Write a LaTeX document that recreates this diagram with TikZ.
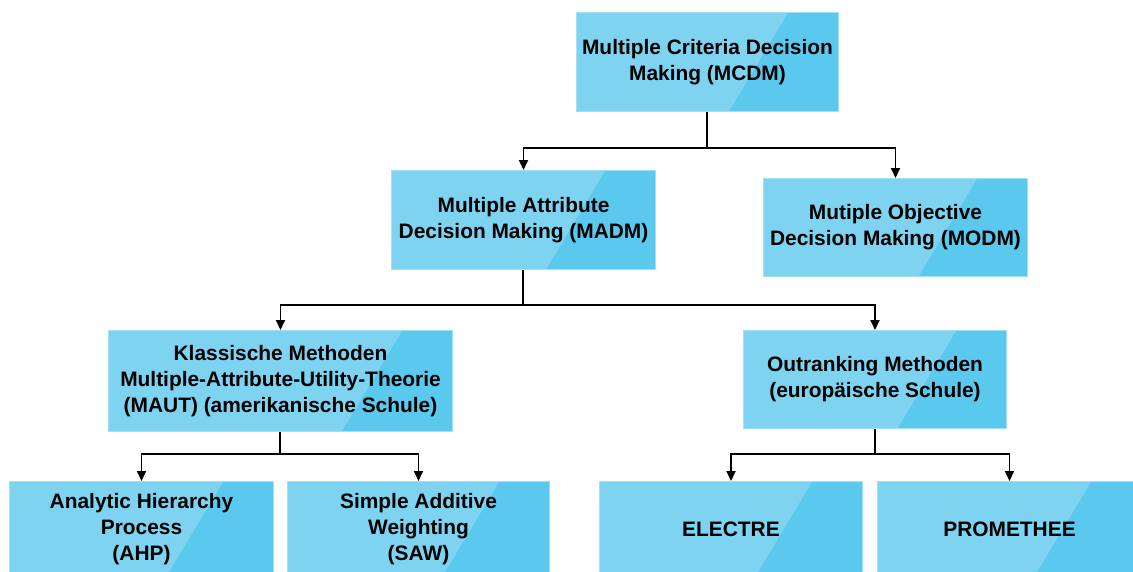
\documentclass[tikz,border=0pt]{standalone}
\usepackage{fontspec}
\setmainfont{Liberation Sans}
\usetikzlibrary{arrows.meta,calc}
\definecolor{boxlight}{HTML}{7DD3F0}
\definecolor{boxdark}{HTML}{5BC8EE}
\definecolor{boxedge}{HTML}{A3DFF5}
\begin{document}
\begin{tikzpicture}[x=1pt,y=-1pt,
  box/.style={draw=boxedge, line width=1pt, fill=boxlight, inner sep=0pt,
    font=\bfseries\fontsize{20.9}{26}\selectfont, align=center,
    path picture={
      \fill[boxdark] let \p1=(path picture bounding box.north east),
                          \p2=(path picture bounding box.south west) in
        (\x1-50pt,\y1) -- (\x1,\y1) -- (\x1,\y2) -- (\x1-50pt-0.6*\y1+0.6*\y2,\y2) -- cycle;
    }},
  link/.style={line width=1.8pt, black},
  arr/.style={link, -{Triangle[width=9pt,length=10pt]}}]
\clip (0,0) rectangle (1133,571);
\fill[white] (0,0) rectangle (1133,571);

% boxes: corner to corner
\node[box, minimum width=262pt, minimum height=99pt, anchor=north west] (mcdm) at (576,12)
  {Multiple Criteria Decision\\Making (MCDM)};
\node[box, minimum width=264pt, minimum height=99pt, anchor=north west] (madm) at (391,170)
  {Multiple Attribute\\Decision Making (MADM)};
\node[box, minimum width=264pt, minimum height=98pt, anchor=north west] (modm) at (763,178)
  {Mutiple Objective\\Decision Making (MODM)};
\node[box, minimum width=344pt, minimum height=101pt, anchor=north west] (klass) at (108,330)
  {Klassische Methoden\\Multiple-Attribute-Utility-Theorie\\(MAUT) (amerikanische Schule)};
\node[box, minimum width=263pt, minimum height=98pt, anchor=north west] (outr) at (743,330)
  {Outranking Methoden\\(europäische Schule)};
\node[box, minimum width=264pt, minimum height=95pt, anchor=north west] (ahp) at (9,481)
  {Analytic Hierarchy\\Process\\(AHP)};
\node[box, minimum width=262pt, minimum height=95pt, anchor=north west] (saw) at (287,481)
  {Simple Additive\\Weighting\\(SAW)};
\node[box, minimum width=263pt, minimum height=95pt, anchor=north west] (electre) at (599,481)
  {ELECTRE};
\node[box, minimum width=264pt, minimum height=95pt, anchor=north west] (prom) at (877,481)
  {PROMETHEE};

% junction points of the connectors
\coordinate (j1) at (707,148);
\coordinate (j2) at (523,305);
\coordinate (j3) at (280,454);
\coordinate (j4) at (875,454);

\draw[link] (mcdm.south -| j1) -- (j1);
\draw[arr] (j1) -| (madm.north);
\draw[arr] (j1) -| (modm.north);

\draw[link, line width=2.4pt] (madm.south -| j2) -- (j2);
\draw[arr] (j2) -| (klass.north);
\draw[arr] (j2) -| (outr.north);

\draw[link] (klass.south -| j3) -- (j3);
\draw[arr] (j3) -| (ahp.north);
\draw[arr] (j3) -| (saw.north);

\draw[link] (outr.south -| j4) -- (j4);
\draw[arr] (j4) -| (electre.north);
\draw[arr] (j4) -| (prom.north);
\end{tikzpicture}
\end{document}
